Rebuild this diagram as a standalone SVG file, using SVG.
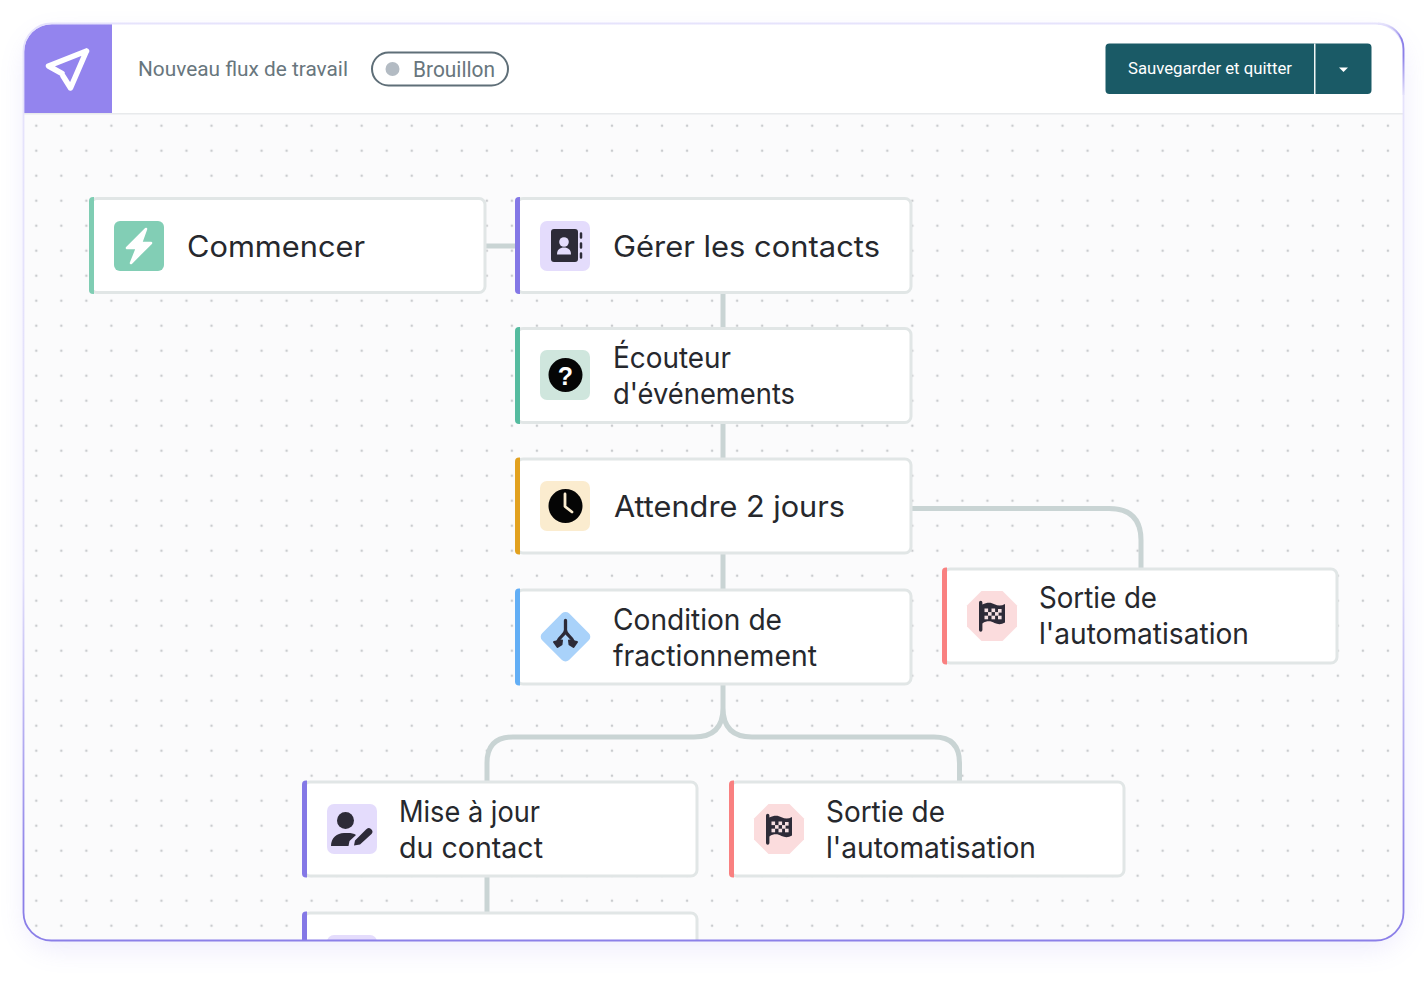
<svg xmlns="http://www.w3.org/2000/svg" width="1424" height="981" viewBox="0 0 1424 981">
<style>
.t{font-family:"Inter","Noto Sans",sans-serif;font-size:29.500px;fill:#26282d}
.h{font-family:"Roboto","Liberation Sans",sans-serif;fill:#68767d}
.card{fill:#fff;stroke:#e1e6e6;stroke-width:3}
.ic{fill:#2d2b38}
.conn{fill:none;stroke:#c9d4d4;stroke-width:5}
</style>
<defs>
<pattern id="dots" x="36.300" y="125.700" width="25.030" height="25" patternUnits="userSpaceOnUse"><g fill="#c9cbce"><circle cx="0" cy="0" r="1.300"/><circle cx="25.030" cy="0" r="1.300"/><circle cx="0" cy="25" r="1.300"/><circle cx="25.030" cy="25" r="1.300"/></g></pattern>
<filter id="soft" x="-10%" y="-10%" width="120%" height="120%"><feGaussianBlur stdDeviation="14"/></filter>
<clipPath id="win"><rect x="24" y="24" width="1379" height="916" rx="28"/></clipPath>
<linearGradient id="frame" gradientUnits="userSpaceOnUse" x1="0" y1="24" x2="0" y2="941"><stop offset="0" stop-color="#e6e3fc"/><stop offset=".6" stop-color="#e3e0fb"/><stop offset=".93" stop-color="#8b7fe8"/><stop offset="1" stop-color="#8b7fe8"/></linearGradient>
<linearGradient id="corner" gradientUnits="userSpaceOnUse" x1="0" y1="24" x2="0" y2="95"><stop offset="0" stop-color="#e6e3fc"/><stop offset=".2" stop-color="#8b7fe8"/><stop offset=".45" stop-color="#8b7fe8"/><stop offset="1" stop-color="#e3e0fb"/></linearGradient>
<path id="flag" d="M-13 -13.500 L-13 14 a1.700 1.700 0 0 0 3.400 0 V7.400 C-5 4.500 -1 5 2.500 7 C6 8.600 9.500 8.600 13 6.600 V-12 C9.500 -10 6 -10 2.500 -11.800 C-1 -13.900 -5 -14 -9.600 -11.400 V-13.500 a1.700 1.700 0 0 0 -3.400 0Z"/>
<g id="exit">
<polygon points="-10.500,-25 10.500,-25 25,-10.500 25,10.500 10.500,25 -10.500,25 -25,10.500 -25,-10.500" fill="#fbdcdd"/>
<use href="#flag" class="ic"/>
<g fill="#f5dfe2"><rect x="-7.500" y="-7.500" width="3.600" height="3.600"/><rect x="-.500" y="-7.500" width="3.600" height="3.600"/><rect x="6" y="-7" width="3.600" height="3.600"/><rect x="-4" y="-3.900" width="3.600" height="3.600"/><rect x="3" y="-3.900" width="3.600" height="3.600"/><rect x="-7.500" y="-.300" width="3.600" height="3.600"/><rect x="-.500" y="-.300" width="3.600" height="3.600"/><rect x="6" y="-.300" width="3.600" height="3.600"/></g>
</g>
</defs>

<rect x="26" y="36" width="1376" height="912" rx="30" fill="#8f82ee" opacity=".16" filter="url(#soft)"/>
<rect x="23.500" y="23.500" width="1380" height="917" rx="28" fill="#fbfbfc"/>
<g clip-path="url(#win)">
<rect x="24" y="114" width="1380" height="827" fill="url(#dots)"/>
<rect x="24" y="24" width="1380" height="89" fill="#fff"/>
<rect x="24" y="113" width="1380" height="1.500" fill="#e8eaec"/>
<rect x="24" y="24" width="88" height="89" fill="#9384ee"/>
</g>

<g id="app-icon"><path d="M86.500 51 L48.500 66 L62 73.500 M86.500 51 L70.500 88 L63 76" fill="none" stroke="#fff" stroke-width="5.500" stroke-linecap="round" stroke-linejoin="round"/></g>
<g id="title"><text class="h" x="138" y="76" font-size="21" textLength="210" lengthAdjust="spacingAndGlyphs">Nouveau flux de travail</text></g>
<g id="status"><rect x="372" y="52.500" width="136" height="33" rx="16.500" fill="#fff" stroke="#5f6f78" stroke-width="2"/><circle cx="392.500" cy="69" r="7" fill="#b3bbc3"/><text class="h" x="413" y="77" font-size="21.500" textLength="82" lengthAdjust="spacingAndGlyphs">Brouillon</text></g>
<g id="save-button"><rect x="1105.500" y="43.500" width="266" height="50.500" rx="4" fill="#1a5a66"/><rect x="1314" y="43.500" width="1.500" height="50.500" fill="#f1f6f6"/><text x="1128" y="74" font-family="Roboto,'Liberation Sans',sans-serif" font-size="16.500" fill="#fff" textLength="164" lengthAdjust="spacingAndGlyphs">Sauvegarder et quitter</text><polygon points="1339,67.500 1348,67.500 1343.500,72" fill="#fff"/></g>

<g id="connectors" clip-path="url(#win)">
<path class="conn" d="M486 246H515M723 293V328M723 423V458M723 554V589M487 877V912"/>
<path class="conn" d="M723 685V708Q723 737 694 737H513Q487 737 487 763V781M723 708Q723 737 752 737H934Q959.500 737 959.500 763V781"/>
<path class="conn" d="M912 508.500H1109Q1141 508.500 1141 540V568"/>
</g>

<g id="n-commencer"><rect class="card" x="91" y="198.500" width="394" height="94" rx="6"/><path d="M94 197H93a4 4 0 0 0-4 4V290a4 4 0 0 0 4 4h1z" fill="#7fcdb3"/>
<rect x="114" y="221" width="50" height="50" rx="6" fill="#82ceb5"/><path d="M146 229 L127 248 H137 L131 263 L151 243 H141Z" fill="#fff" stroke="#fff" stroke-width="2.500" stroke-linejoin="round"/>
<text class="t" x="187" y="257" textLength="178" lengthAdjust="spacingAndGlyphs">Commencer</text></g>

<g id="n-contacts"><rect class="card" x="517" y="198.500" width="394" height="94" rx="6"/><path d="M520 197H519a4 4 0 0 0-4 4V290a4 4 0 0 0 4 4h1z" fill="#8478e6"/>
<rect x="540" y="221" width="50" height="50" rx="7" fill="#e4dcfc"/><rect x="551" y="229" width="27" height="33" rx="3" class="ic"/><circle cx="564" cy="242" r="4.800" fill="#e4dcfc"/><path d="M557 254.500c0-5 3-7 7-7s7 2 7 7z" fill="#e4dcfc"/><path d="M581 233.500v4M581 243.500v4M581 253.500v4" stroke="#2d2b38" stroke-width="2.500" stroke-linecap="round"/>
<text class="t" x="613" y="257" textLength="267" lengthAdjust="spacingAndGlyphs">Gérer les contacts</text></g>

<g id="n-ecouteur"><rect class="card" x="517" y="328.500" width="394" height="94" rx="6"/><path d="M520 327H519a4 4 0 0 0-4 4V420a4 4 0 0 0 4 4h1z" fill="#55bb9f"/>
<rect x="540" y="350" width="50" height="50" rx="7" fill="#cfe6dd"/><circle cx="565.500" cy="375" r="17" fill="#050505"/><text x="565.500" y="385" text-anchor="middle" font-family="'Liberation Sans',sans-serif" font-weight="700" font-size="25" fill="#fff">?</text>
<text class="t" x="613" y="368" textLength="118" lengthAdjust="spacingAndGlyphs">Écouteur</text><text class="t" x="613" y="404" textLength="182" lengthAdjust="spacingAndGlyphs">d'événements</text></g>

<g id="n-attendre"><rect class="card" x="517" y="459" width="394" height="94" rx="6"/><path d="M520 457.500H519a4 4 0 0 0-4 4V550.500a4 4 0 0 0 4 4h1z" fill="#e2a11f"/>
<rect x="540" y="481" width="50" height="50" rx="7" fill="#fbeccf"/><circle cx="565.500" cy="506" r="17" fill="#050505"/><path d="M565 494V506.500L572 512" fill="none" stroke="#fbeccf" stroke-width="2.800" stroke-linecap="round" stroke-linejoin="round"/>
<text class="t" x="614" y="517" textLength="231" lengthAdjust="spacingAndGlyphs">Attendre 2 jours</text></g>

<g id="n-condition"><rect class="card" x="517" y="590" width="394" height="94" rx="6"/><path d="M520 588.500H519a4 4 0 0 0-4 4V681.500a4 4 0 0 0 4 4h1z" fill="#62aef5"/>
<rect x="546.500" y="617.700" width="38" height="38" rx="5" transform="rotate(45 565.500 636.700)" fill="#a9d2fa"/><path d="M565.500 620.500V630C565.500 635 559.500 636 557.500 642M565.500 630C565.500 635 571.500 636 573.500 642" fill="none" stroke="#2d2b38" stroke-width="3.300" stroke-linecap="round"/><path d="M554 642L562 640.500 561.500 644.500 557.500 647ZM577 642L569 640.500 569.500 644.500 573.500 647Z" class="ic" stroke="#2d2b38" stroke-width="2" stroke-linejoin="round"/>
<text class="t" x="613" y="630" textLength="169" lengthAdjust="spacingAndGlyphs">Condition de</text><text class="t" x="613" y="666" textLength="204" lengthAdjust="spacingAndGlyphs">fractionnement</text></g>

<g id="n-sortie-1"><rect class="card" x="944" y="569" width="393" height="94" rx="6"/><path d="M947 567.500H946a4 4 0 0 0-4 4V660.500a4 4 0 0 0 4 4h1z" fill="#f98080"/>
<use href="#exit" x="992" y="616"/>
<text class="t" x="1039" y="608" textLength="118" lengthAdjust="spacingAndGlyphs">Sortie de</text><text class="t" x="1039" y="644" textLength="210" lengthAdjust="spacingAndGlyphs">l'automatisation</text></g>

<g id="n-mise"><rect class="card" x="304" y="782" width="393" height="94" rx="6"/><path d="M307 780.500H306a4 4 0 0 0-4 4V873.500a4 4 0 0 0 4 4h1z" fill="#8478e6"/>
<rect x="327" y="804" width="50" height="50" rx="7" fill="#e4dcfc"/><circle cx="345.500" cy="820.500" r="8.500" class="ic"/><path d="M331 846c0-8 6-13 13-13h4c3 0 6 .5 8 2l-6.500 6-1 5z" class="ic"/><path d="M354 845.500l1-5 11-11a2.800 2.800 0 0 1 5.500 4.500l-11.500 10.500z" class="ic"/>
<text class="t" x="399" y="822" textLength="141" lengthAdjust="spacingAndGlyphs">Mise à jour</text><text class="t" x="399" y="858" textLength="144" lengthAdjust="spacingAndGlyphs">du contact</text></g>

<g id="n-sortie-2"><rect class="card" x="731" y="782" width="393" height="94" rx="6"/><path d="M734 780.500H733a4 4 0 0 0-4 4V873.500a4 4 0 0 0 4 4h1z" fill="#f98080"/>
<use href="#exit" x="779" y="829"/>
<text class="t" x="826" y="822" textLength="119" lengthAdjust="spacingAndGlyphs">Sortie de</text><text class="t" x="826" y="858" textLength="210" lengthAdjust="spacingAndGlyphs">l'automatisation</text></g>

<g id="n-suivant" clip-path="url(#win)"><rect class="card" x="304" y="913" width="393" height="94" rx="6"/><path d="M307 911.500H306a4 4 0 0 0-4 4V1000h5z" fill="#8478e6"/><rect x="327" y="935" width="50" height="50" rx="7" fill="#e4dcfc"/></g>

<rect id="frame-edge" x="23.500" y="23.500" width="1380" height="917" rx="28" fill="none" stroke="url(#frame)" stroke-width="1.800"/>
<path d="M1378 23.500A25.500 25.500 0 0 1 1403.500 49V95" fill="none" stroke="url(#corner)" stroke-width="1.800"/>
</svg>
